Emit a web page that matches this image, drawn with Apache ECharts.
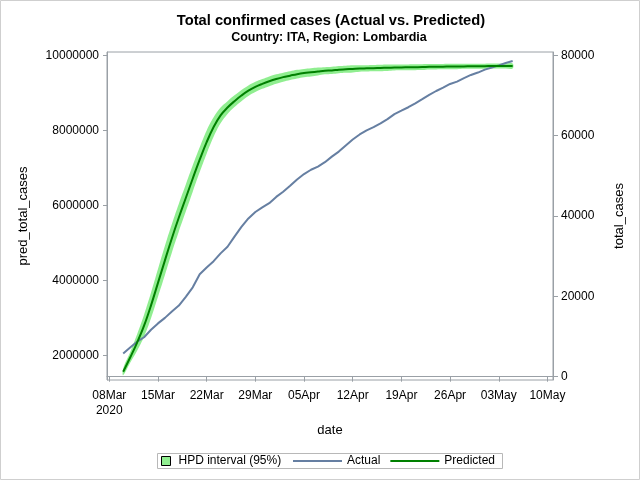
<!DOCTYPE html>
<html>
<head>
    <meta charset="utf-8">
    <title>Total confirmed cases</title>
    <script src="https://cdn.jsdelivr.net/npm/echarts@6.0.0/dist/echarts.min.js"></script>
    <style>
        html, body { margin: 0; padding: 0; background: #fff; }
    </style>
</head>
<body>
<div id="main" style="width: 640px;height:480px;"></div>
<script type="text/javascript">
    // dates of the observations (10Mar .. 05May 2020)
    var dates = [
        '2020-03-10','2020-03-11','2020-03-12','2020-03-13','2020-03-14','2020-03-15','2020-03-16',
        '2020-03-17','2020-03-18','2020-03-19','2020-03-20','2020-03-21','2020-03-22','2020-03-23',
        '2020-03-24','2020-03-25','2020-03-26','2020-03-27','2020-03-28','2020-03-29','2020-03-30',
        '2020-03-31','2020-04-01','2020-04-02','2020-04-03','2020-04-04','2020-04-05','2020-04-06',
        '2020-04-07','2020-04-08','2020-04-09','2020-04-10','2020-04-11','2020-04-12','2020-04-13',
        '2020-04-14','2020-04-15','2020-04-16','2020-04-17','2020-04-18','2020-04-19','2020-04-20',
        '2020-04-21','2020-04-22','2020-04-23','2020-04-24','2020-04-25','2020-04-26','2020-04-27',
        '2020-04-28','2020-04-29','2020-04-30','2020-05-01','2020-05-02','2020-05-03','2020-05-04',
        '2020-05-05'
    ];

    // actual total cases (right axis)
    var actualCases = [
        5791, 7280, 8725, 9820, 11685, 13272, 14649, 16220, 17713, 19884, 22264, 25515, 27206, 28761,
        30703, 32346, 34889, 37298, 39415, 41007, 42161, 43208, 44773, 46065, 47520, 49118, 50455, 51534,
        52325, 53414, 54802, 56048, 57592, 59052, 60314, 61326, 62153, 63094, 64135, 65381, 66236, 67098,
        68077, 69092, 70164, 71140, 71969, 72889, 73479, 74348, 75134, 75732, 76469, 77002, 77528, 78105,
        78605
    ];

    // predicted total cases, in millions (left axis)
    var predCases = [
        1.57, 1.95, 2.35, 2.80, 3.34, 3.94, 4.54, 5.13, 5.68, 6.20, 6.72, 7.22, 7.69, 8.09,
        8.40, 8.61, 8.78, 8.93, 9.06, 9.16, 9.24, 9.31, 9.37, 9.42, 9.46, 9.50, 9.53, 9.55,
        9.57, 9.59, 9.60, 9.62, 9.63, 9.64, 9.65, 9.655, 9.66, 9.665, 9.67, 9.675, 9.68, 9.682,
        9.685, 9.688, 9.695, 9.698, 9.70, 9.703, 9.705, 9.707, 9.709, 9.711, 9.713, 9.715, 9.716, 9.717,
        9.718
    ];

    // HPD interval (95%) bounds, in millions
    var hpdLower = [
        1.48, 1.81, 2.13, 2.51, 3.00, 3.57, 4.15, 4.75, 5.31, 5.84, 6.37, 6.89, 7.38, 7.83,
        8.19, 8.44, 8.625, 8.78, 8.92, 9.025, 9.11, 9.18, 9.245, 9.30, 9.345, 9.385, 9.42, 9.44,
        9.465, 9.495, 9.505, 9.525, 9.535, 9.545, 9.565, 9.57, 9.575, 9.58, 9.585, 9.597, 9.602, 9.604,
        9.607, 9.61, 9.623, 9.626, 9.628, 9.631, 9.633, 9.641, 9.643, 9.645, 9.647, 9.649, 9.65, 9.651,
        9.652
    ];
    var hpdUpper = [
        1.66, 2.09, 2.57, 3.09, 3.68, 4.31, 4.93, 5.51, 6.05, 6.56, 7.07, 7.55, 8.00, 8.35,
        8.61, 8.78, 8.935, 9.08, 9.20, 9.295, 9.37, 9.44, 9.495, 9.54, 9.575, 9.615, 9.64, 9.66,
        9.675, 9.685, 9.695, 9.715, 9.725, 9.735, 9.737, 9.74, 9.745, 9.75, 9.755, 9.756, 9.758, 9.76,
        9.763, 9.766, 9.767, 9.77, 9.772, 9.775, 9.777, 9.777, 9.778, 9.779, 9.78, 9.781, 9.782, 9.783,
        9.784
    ];

    // axis ticks
    var dateTicks = ['2020-03-08','2020-03-15','2020-03-22','2020-03-29','2020-04-05','2020-04-12',
                     '2020-04-19','2020-04-26','2020-05-03','2020-05-10'];
    var leftTicks = [2000000, 4000000, 6000000, 8000000, 10000000];
    var rightTicks = [0, 20000, 40000, 60000, 80000];

    var MILLION = 1000000;
    var DAY = 86400000;
    var months = ['Jan','Feb','Mar','Apr','May','Jun','Jul','Aug','Sep','Oct','Nov','Dec'];
    var font = 'Liberation Sans, Arial, sans-serif';
    var frameColor = '#9aa0a6';

    function toTime(s) {
        var p = s.split('-');
        return new Date(+p[0], +p[1] - 1, +p[2]).getTime();
    }
    var tickTimes = dateTicks.map(toTime);

    function pairs(values, scale) {
        return dates.map(function (d, i) { return [toTime(d), values[i] * scale]; });
    }

    var myChart = echarts.init(document.getElementById('main'));

    // band drawn as one polygon: upper edge forward, lower edge back
    function renderBand(params, api) {
        if (params.dataIndexInside !== 0) return null;
        var n = params.dataInsideLength;
        var upper = [], lower = [];
        for (var j = 0; j < n; j++) {
            upper.push(api.coord([api.value(0, j), api.value(2, j)]));
            lower.push(api.coord([api.value(0, j), api.value(1, j)]));
        }
        return {
            type: 'polygon',
            shape: { points: upper.concat(lower.reverse()), smooth: 0.4 },
            style: { fill: '#90ee90', stroke: null }
        };
    }

    var option = {
        animation: false,
        backgroundColor: '#fff',
        title: [{
            text: 'Total confirmed cases (Actual vs. Predicted)',
            left: 331, top: 13, textAlign: 'center', padding: 0,
            textStyle: { fontFamily: font, fontSize: 14.7, fontWeight: 'bold', color: '#000' }
        }, {
            text: 'Country: ITA, Region: Lombardia',
            left: 329, top: 31, textAlign: 'center', padding: 0,
            textStyle: { fontFamily: font, fontSize: 12.5, fontWeight: 'bold', color: '#000' }
        }],
        legend: [{
            left: 161, top: 455, padding: 0,
            itemWidth: 9, itemHeight: 9,
            selectedMode: false,
            textStyle: { fontFamily: font, fontSize: 12, color: '#000', padding: [0, 0, 0, 3] },
            data: [{
                name: 'HPD interval (95%)',
                icon: 'rect',
                itemStyle: { color: '#90ee90', borderColor: '#000', borderWidth: 1 }
            }]
        }, {
            left: 293, top: 455, padding: 0,
            itemWidth: 49, itemHeight: 2, itemGap: 10,
            selectedMode: false,
            textStyle: { fontFamily: font, fontSize: 12, color: '#000' },
            data: [{ name: 'Actual', icon: 'rect' }, { name: 'Predicted', icon: 'rect' }]
        }],
        graphic: [{
            type: 'rect',
            shape: { x: 0.5, y: 0.5, width: 639, height: 479 },
            style: { fill: 'none', stroke: '#cfcfcf', lineWidth: 1 },
            silent: true
        }, {
            type: 'rect',
            shape: { x: 157.5, y: 453.5, width: 345, height: 15 },
            style: { fill: 'none', stroke: '#b8b8b8', lineWidth: 1 },
            silent: true
        }],
        grid: {
            left: 107, right: 87, top: 52, bottom: 100,
            show: true, borderColor: frameColor, borderWidth: 1, backgroundColor: 'transparent'
        },
        xAxis: {
            type: 'value',
            min: toTime('2020-03-08') - 0.33 * DAY,
            max: toTime('2020-05-10') + 0.8 * DAY,
            name: 'date',
            nameLocation: 'middle',
            nameGap: 44,
            nameTextStyle: { fontFamily: font, fontSize: 13, color: '#000' },
            axisLine: { show: true, lineStyle: { color: frameColor } },
            axisTick: { show: true, length: 5, customValues: tickTimes, lineStyle: { color: frameColor } },
            axisLabel: {
                customValues: tickTimes,
                margin: 8,
                fontFamily: font, fontSize: 12, color: '#000', lineHeight: 15,
                formatter: function (v) {
                    var d = new Date(v);
                    var dd = (d.getDate() < 10 ? '0' : '') + d.getDate();
                    var s = dd + months[d.getMonth()];
                    if (v === tickTimes[0]) s += '\n' + d.getFullYear();
                    return s;
                }
            },
            splitLine: { show: false }
        },
        yAxis: [{
            type: 'value',
            position: 'left',
            min: 1352000, max: 10090000,
            name: 'pred_total_cases',
            nameLocation: 'middle',
            nameGap: 77,
            nameTextStyle: { fontFamily: font, fontSize: 13, color: '#000' },
            axisLine: { show: true, lineStyle: { color: frameColor } },
            axisTick: { show: true, length: 4, customValues: leftTicks, lineStyle: { color: frameColor } },
            axisLabel: {
                customValues: leftTicks, margin: 8,
                fontFamily: font, fontSize: 12, color: '#000',
                formatter: function (v) { return String(v); }
            },
            splitLine: { show: false }
        }, {
            type: 'value',
            position: 'right',
            min: -820, max: 80850,
            name: 'total_cases',
            nameLocation: 'middle',
            nameGap: 60,
            nameTextStyle: { fontFamily: font, fontSize: 13, color: '#000' },
            axisLine: { show: true, lineStyle: { color: frameColor } },
            axisTick: { show: true, length: 5, customValues: rightTicks, lineStyle: { color: frameColor } },
            axisLabel: {
                customValues: rightTicks, margin: 8,
                fontFamily: font, fontSize: 12, color: '#000',
                formatter: function (v) { return String(v); }
            },
            splitLine: { show: false }
        }],
        series: [{
            name: 'HPD interval (95%)',
            type: 'custom',
            yAxisIndex: 0,
            silent: true,
            clip: true,
            itemStyle: { color: '#90ee90' },
            encode: { x: 0, y: [1, 2] },
            renderItem: renderBand,
            data: dates.map(function (d, i) {
                return [toTime(d), hpdLower[i] * MILLION, hpdUpper[i] * MILLION];
            }),
            z: 1
        }, {
            name: 'Actual',
            type: 'line',
            yAxisIndex: 1,
            symbol: 'none',
            itemStyle: { color: '#667fa2' },
            lineStyle: { color: '#667fa2', width: 2 },
            data: pairs(actualCases, 1),
            z: 3
        }, {
            name: 'Predicted',
            type: 'line',
            yAxisIndex: 0,
            symbol: 'none',
            smooth: 0.4,
            itemStyle: { color: '#008000' },
            lineStyle: { color: '#008000', width: 2 },
            data: pairs(predCases, MILLION),
            z: 4
        }]
    };

    myChart.setOption(option);
</script>
</body>
</html>
